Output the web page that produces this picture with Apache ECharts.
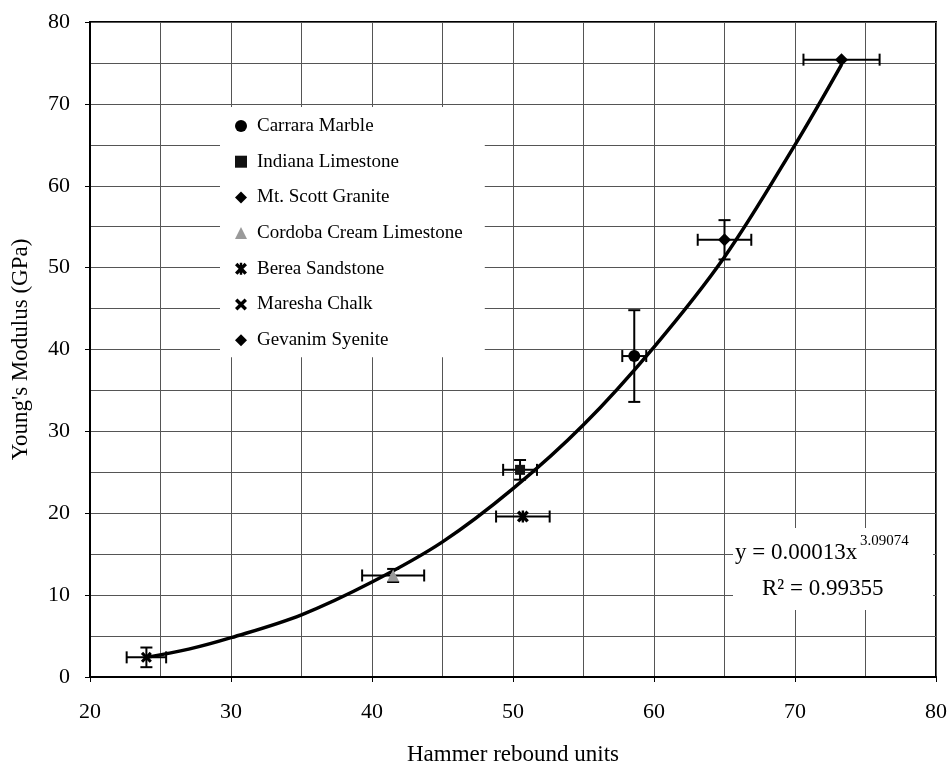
<!DOCTYPE html>
<html>
<head>
<meta charset="utf-8">
<script src="https://cdn.jsdelivr.net/npm/echarts@6/dist/echarts.min.js"></script>
<style>
  html, body { margin: 0; padding: 0; background: #fff; }
  #chart { width: 950px; height: 764px; }
</style>
</head>
<body>
<div id="chart"></div>
<script>
// rock types, same order as the legend
var rockNames = ['Carrara Marble', 'Indiana Limestone', 'Mt. Scott Granite',
  'Cordoba Cream Limestone', 'Berea Sandstone', 'Maresha Chalk', 'Gevanim Syenite'];
// mean hammer rebound and Young's modulus (GPa)
var rebound = [58.6, 50.5, 65.0, 41.5, 50.7, 24.0, 73.3];
var modulus = [39.2, 25.3, 53.4, 12.4, 19.6, 2.4, 75.4];
// half width of the error bars
var reboundErr = [0.85, 1.2, 1.9, 2.2, 1.9, 1.4, 2.7];
var modulusErr = [5.6, 1.2, 2.4, 0.8, 0, 1.2, 0];
// power-law trend curve
var trendX = [24, 27, 30, 35, 40, 45, 50, 55, 60, 65, 70, 73.3];
var trendY = [2.4, 3.4, 4.8, 7.6, 11.6, 16.5, 23.0, 30.8, 40.3, 51.3, 65.0, 74.8];
var xTicks = [20, 30, 40, 50, 60, 70, 80];
var yTicks = [0, 10, 20, 30, 40, 50, 60, 70, 80];

var FONT = 'Liberation Serif';
var crossPath = 'path://M0,2L2,0L5,3L8,0L10,2L7,5L10,8L8,10L5,7L2,10L0,8L3,5Z';
var starPath = 'path://M0,2L2,0L5,3L8,0L10,2L7,5L10,8L8,10L5,7L2,10L0,8L3,5ZM4,0L6,0L6,10L4,10Z';
var symbols = ['circle', 'rect', 'diamond', 'triangle', starPath, crossPath, 'diamond'];
var sizes = [12, 10, 13, 12, 12, 11, 13];
var colors = ['#000', '#111', '#000', '#9a9a9a', '#000', '#000', '#000'];

var chart = echarts.init(document.getElementById('chart'));

var series = [];
// error bars
series.push({
  type: 'custom',
  name: 'err',
  silent: true,
  z: 3,
  data: rebound.map(function (x, i) { return [x, modulus[i], reboundErr[i], modulusErr[i]]; }),
  renderItem: function (params, api) {
    var x = api.value(0), y = api.value(1), ex = api.value(2), ey = api.value(3);
    var l = api.coord([x - ex, y]), r = api.coord([x + ex, y]);
    var st = { stroke: '#000', lineWidth: 2 };
    var cap = 6;
    var kids = [
      { type: 'line', shape: { x1: l[0], y1: l[1], x2: r[0], y2: r[1] }, style: st },
      { type: 'line', shape: { x1: l[0], y1: l[1] - cap, x2: l[0], y2: l[1] + cap }, style: st },
      { type: 'line', shape: { x1: r[0], y1: r[1] - cap, x2: r[0], y2: r[1] + cap }, style: st }
    ];
    if (ey > 0) {
      var t = api.coord([x, y + ey]), b = api.coord([x, y - ey]);
      kids.push({ type: 'line', shape: { x1: t[0], y1: t[1], x2: b[0], y2: b[1] }, style: st });
      kids.push({ type: 'line', shape: { x1: t[0] - cap, y1: t[1], x2: t[0] + cap, y2: t[1] }, style: st });
      kids.push({ type: 'line', shape: { x1: b[0] - cap, y1: b[1], x2: b[0] + cap, y2: b[1] }, style: st });
    }
    return { type: 'group', children: kids };
  }
});
// trend curve
series.push({
  type: 'line',
  name: 'trend',
  data: trendX.map(function (x, i) { return [x, trendY[i]]; }),
  smooth: 0.35,
  showSymbol: false,
  silent: true,
  z: 4,
  lineStyle: { color: '#000', width: 3.5 }
});
// one scatter series per rock
rockNames.forEach(function (name, i) {
  series.push({
    type: 'scatter',
    name: name,
    data: [[rebound[i], modulus[i]]],
    symbol: symbols[i],
    symbolSize: sizes[i],
    z: 5,
    itemStyle: { color: colors[i], opacity: 1 }
  });
});

chart.setOption({
  backgroundColor: '#fff',
  animation: false,
  textStyle: { fontFamily: FONT, color: '#000' },
  grid: {
    left: 90, right: 14, top: 22, bottom: 87,
    outerBoundsMode: 'none',
    containLabel: false,
    show: true, borderColor: '#000', borderWidth: 2
  },
  legend: {
    data: rockNames,
    orient: 'vertical',
    left: 220, top: 107,
    padding: [9, 22, 7, 15],
    backgroundColor: '#fff',
    itemWidth: 12, itemHeight: 12,
    itemGap: 15.7,
    selectedMode: false,
    textStyle: { fontFamily: FONT, fontSize: 19, color: '#000', lineHeight: 20, padding: [0, 0, 0, 5] }
  },
  xAxis: {
    type: 'value',
    min: xTicks[0], max: xTicks[xTicks.length - 1], interval: 10,
    name: 'Hammer rebound units',
    nameLocation: 'middle', nameGap: 66,
    nameTextStyle: { fontFamily: FONT, fontSize: 23, color: '#000' },
    axisLine: { lineStyle: { color: '#000', width: 2 } },
    axisTick: { show: true, length: 5, lineStyle: { color: '#000', width: 1 } },
    axisLabel: { margin: 24, fontFamily: FONT, fontSize: 22, color: '#000' },
    splitLine: { lineStyle: { color: '#555', width: 1 } },
    minorTick: { show: false, splitNumber: 2 },
    minorSplitLine: { show: true, lineStyle: { color: '#555', width: 1 } }
  },
  yAxis: {
    type: 'value',
    min: yTicks[0], max: yTicks[yTicks.length - 1], interval: 10,
    name: "Young's Modulus (GPa)",
    nameLocation: 'middle', nameGap: 58,
    nameTextStyle: { fontFamily: FONT, fontSize: 23, color: '#000' },
    axisLine: { show: true, lineStyle: { color: '#000', width: 2 } },
    axisTick: { show: true, length: 5, lineStyle: { color: '#000', width: 1 } },
    axisLabel: { margin: 20, fontFamily: FONT, fontSize: 22, color: '#000' },
    splitLine: { lineStyle: { color: '#555', width: 1 } },
    minorTick: { show: false, splitNumber: 2 },
    minorSplitLine: { show: true, lineStyle: { color: '#555', width: 1 } }
  },
  graphic: [
    { type: 'rect', z: 10, shape: { x: 733, y: 528, width: 200, height: 82 }, style: { fill: '#fff' } },
    { type: 'text', z: 11, left: 735, top: 541,
      style: { text: 'y = 0.00013x', font: '23px "Liberation Serif"', fill: '#000' } },
    { type: 'text', z: 11, left: 860, top: 534,
      style: { text: '3.09074', font: '15px "Liberation Serif"', fill: '#000' } },
    { type: 'text', z: 11, left: 762, top: 577,
      style: { text: 'R\u00b2 = 0.99355', font: '23px "Liberation Serif"', fill: '#000' } }
  ],
  series: series
});
</script>
</body>
</html>
